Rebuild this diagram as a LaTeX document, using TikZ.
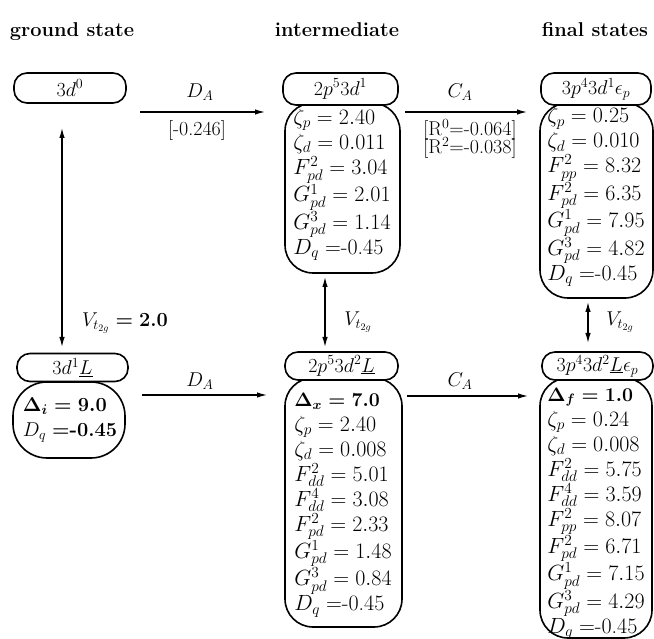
\RequirePackage{fix-cm}
\documentclass[tikz,border=0pt]{standalone}
\usetikzlibrary{arrows.meta}
\tikzset{
  lbl/.style={draw, line width=1.6pt, rounded corners=13pt, fill=white, minimum height=28pt, inner sep=0pt, font=\fontsize{20}{24}\selectfont},
  pbox/.style={draw, line width=1.6pt, rounded corners=28pt, inner sep=0pt},
  ptxt/.style={align=left, inner sep=0pt, font=\fontsize{22}{25}\selectfont},
  hdr/.style={font=\fontsize{20}{24}\selectfont\bfseries, anchor=base},
  elab/.style={font=\fontsize{20}{24}\selectfont, inner sep=0pt},
  arr/.style={line width=1.3pt, -{Latex[length=10pt,width=5.5pt]}},
  darr/.style={line width=1.3pt, {Latex[length=10pt,width=5.5pt]}-{Latex[length=10pt,width=5.5pt]}},
}
\newcommand\bsz{\fontsize{19.5}{25}\selectfont}
\begin{document}
\begin{tikzpicture}[x=1pt,y=-1pt]
\useasboundingbox (0,0) rectangle (654,639);
% headers
\node[hdr] (h1) at (72,37) {ground state};
\node[hdr] (h2) at (337,37) {intermediate};
\node[hdr] (h3) at (595,37) {final states};

% parameter boxes (drawn first)
\node[pbox, minimum width=115pt, minimum height=170pt] (i1p) at (342.5,188) {};
\node[pbox, minimum width=113pt, minimum height=195pt] (f1p) at (596.5,200.5) {};
\node[pbox, rounded corners=34pt, minimum width=112pt, minimum height=76pt] (g1p) at (69,420) {};
\node[pbox, minimum width=117pt, minimum height=249pt] (i2p) at (343.5,502.5) {};
\node[pbox, minimum width=112pt, minimum height=260pt] (f2p) at (596,508) {};

% parameter texts
\node[ptxt] (i1t) at (342,185) {$\zeta_p = 2.40$\\ $\zeta_d = 0.011$\\ $F^2_{pd} = 3.04$\\ $G^1_{pd} = 2.01$\\ $G^3_{pd} = 1.14$\\ $D_q =$-0.45};
\node[ptxt] (f1t) at (596,197) {$\zeta_p = 0.25$\\ $\zeta_d = 0.010$\\ $F^2_{pp} = 8.32$\\ $F^2_{pd} = 6.35$\\ $G^1_{pd} = 7.95$\\ $G^3_{pd} = 4.82$\\ $D_q =$-0.45};
\node[ptxt, font=\fontsize{20}{25}\selectfont] (g1t) at (70,420) {{\boldmath$\Delta_i = 9.0$}\\ $D_q$ {\boldmath$=$}\textbf{-0.45}};
\node[ptxt] (i2t) at (343,505) {{\bsz\boldmath$\Delta_x = 7.0$}\\ $\zeta_p = 2.40$\\ $\zeta_d = 0.008$\\ $F^2_{dd} = 5.01$\\ $F^4_{dd} = 3.08$\\ $F^2_{pd} = 2.33$\\ $G^1_{pd} = 1.48$\\ $G^3_{pd} = 0.84$\\ $D_q =$-0.45};
\node[ptxt] (f2t) at (596,513.5) {{\bsz\boldmath$\Delta_f = 1.0$}\\ $\zeta_p = 0.24$\\ $\zeta_d = 0.008$\\ $F^2_{dd} = 5.75$\\ $F^4_{dd} = 3.59$\\ $F^2_{pp} = 8.07$\\ $F^2_{pd} = 6.71$\\ $G^1_{pd} = 7.15$\\ $G^3_{pd} = 4.29$\\ $D_q =$-0.45};

% state labels
\node[lbl, minimum width=112pt, minimum height=30pt] (g0) at (70,88) {$3d^0$};
\node[lbl, minimum width=115pt, minimum height=32pt] (i1) at (340.5,89) {$2p^5 3d^1$};
\node[lbl, minimum width=110pt, minimum height=32pt] (f1) at (596,89) {$3p^4 3d^1\epsilon_p$};
\node[lbl, minimum width=111pt] (g1) at (72.5,367.5) {$3d^1\underline{L}$};
\node[lbl, minimum width=113pt] (i2) at (341.5,366) {$2p^5 3d^2\underline{L}$};
\node[lbl, minimum width=111pt] (f2) at (597.5,366) {$3p^4 3d^2\underline{L}\epsilon_p$};

% arrow end points
\coordinate (a1s) at (140,112); \coordinate (a1e) at (265,112);
\coordinate (a2s) at (405,112); \coordinate (a2e) at (527,112);
\coordinate (a3s) at (142,395); \coordinate (a3e) at (267,395);
\coordinate (a4s) at (407,396); \coordinate (a4e) at (528,396);
\coordinate (v1s) at (62,128);  \coordinate (v1e) at (62,347);
\coordinate (v2s) at (325,277); \coordinate (v2e) at (325,347);
\coordinate (v3s) at (588,302); \coordinate (v3e) at (588,343);

% horizontal transitions
\draw[arr] (a1s) -- (a1e);
\draw[arr] (a2s) -- (a2e);
\draw[arr] (a3s) -- (a3e);
\draw[arr] (a4s) -- (a4e);
\node[elab] (l1) at (200,92) {$D_A$};
\node[elab] (l1b) at (197,131) {[-0.246]};
\node[elab] (l2) at (460,92) {$C_A$};
\node[elab] (l2b) at (470,130) {[R$^0$=-0.064]};
\node[elab] (l2c) at (470,148) {[R$^2$=-0.038]};
\node[elab] (l3) at (200,381) {$D_A$};
\node[elab] (l4) at (460,381) {$C_A$};

% vertical hybridisation
\draw[darr] (v1s) -- (v1e);
\draw[darr] (v2s) -- (v2e);
\draw[darr] (v3s) -- (v3e);
\node[elab] (lv1) at (125,323) {$V_{t_{2g}}$ {\boldmath$=$ \textbf{2.0}}};
\node[elab] (lv2) at (358,322) {$V_{t_{2g}}$};
\node[elab] (lv3) at (620,322) {$V_{t_{2g}}$};
\end{tikzpicture}
\end{document}
